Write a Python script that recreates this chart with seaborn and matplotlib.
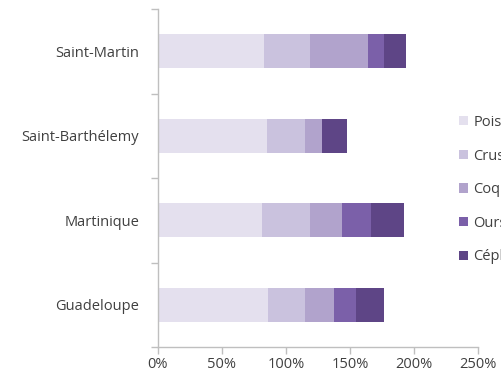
import matplotlib
matplotlib.use("Agg")
import matplotlib.pyplot as plt
import seaborn as sns
import pandas as pd
import numpy as np
from matplotlib.patches import Patch
from matplotlib.ticker import PercentFormatter

regions = ["Saint-Martin", "Saint-Barthélemy", "Martinique", "Guadeloupe"]
series = ["Poissons", "Crustacés", "Coquillages", "Oursins", "Céphalopodes"]
poissons = [0.83, 0.85, 0.815, 0.86]
crustaces = [0.36, 0.30, 0.375, 0.285]
coquillages = [0.45, 0.13, 0.25, 0.23]
oursins = [0.125, 0.0, 0.225, 0.17]
cephalopodes = [0.17, 0.195, 0.255, 0.22]
colors = ["#e4e0ee", "#cac2de", "#b1a3cc", "#7b60a9", "#5e4586"]
xticks = [0, 0.5, 1.0, 1.5, 2.0, 2.5]

sns.set_style("white")
plt.rcParams['font.family'] = ['Open Sans', 'DejaVu Sans']

values = [poissons, crustaces, coquillages, oursins, cephalopodes]
cum = np.cumsum(np.array(values), axis=0)

fig = plt.figure(figsize=(5.02, 3.83), dpi=100)
ax = fig.add_axes([158/502, 1-347/383, (478-158)/502, (347-9)/383])

for i in range(len(series) - 1, -1, -1):
    df = pd.DataFrame({"region": regions, "value": cum[i]})
    sns.barplot(data=df, x="value", y="region", orient="h", color=colors[i],
                width=0.4, saturation=1, ax=ax, linewidth=0, order=regions)

fs = 10.5
ax.set_xlim(0, 2.5)
ax.set_ylim(3.5, -0.5)
ax.set_xticks(xticks)
ax.xaxis.set_major_formatter(PercentFormatter(1.0, decimals=0))
ax.set_xlabel("")
ax.set_ylabel("")
ax.set_yticks(range(len(regions)))
ax.set_yticklabels(regions)
ax.tick_params(axis='y', length=0, pad=13.5, labelsize=fs, labelcolor="#404040")
ax.set_yticks([-0.5, 0.5, 1.5, 2.5, 3.5], minor=True)
ax.tick_params(axis='y', which='minor', length=5, color="#bfbfbf", width=1, left=True)
ax.tick_params(axis='x', length=5, color="#bfbfbf", width=1, bottom=True,
               labelsize=fs, labelcolor="#404040", pad=2.5)
for s in ["top", "right"]:
    ax.spines[s].set_visible(False)
for s in ["left", "bottom"]:
    ax.spines[s].set_color("#bfbfbf")
    ax.spines[s].set_linewidth(1)

handles = [Patch(facecolor=c, edgecolor='none') for c in colors]
fig.legend(handles, series, loc='upper left', bbox_to_anchor=(453/502, 1-109/383),
           frameon=False, fontsize=fs, handlelength=0.6, handleheight=0.6,
           handletextpad=0.4, labelspacing=1.28, labelcolor="#404040", borderaxespad=0)

fig.savefig("out.png", dpi=100)
